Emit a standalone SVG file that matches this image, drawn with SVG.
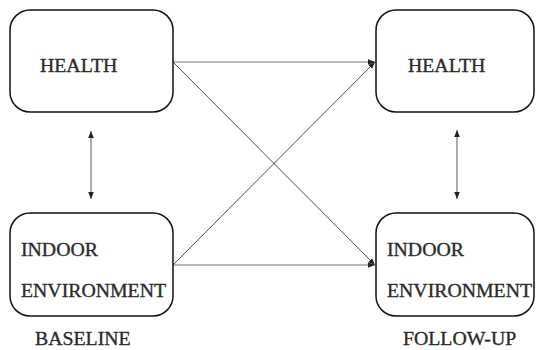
<svg xmlns="http://www.w3.org/2000/svg" width="536" height="350" viewBox="0 0 536 350">
<style>
.box{fill:#fff;stroke:#111;stroke-width:1.5}
.t{font-family:"Liberation Serif",serif;font-size:19.8px;fill:#2a2a2a;stroke:#2a2a2a;stroke-width:0.35}
.h{stroke:#777;stroke-width:1.2;fill:none}
.d{stroke:#222;stroke-width:0.8;fill:none}
</style>
<defs>
<marker id="ah" viewBox="0 0 10 10" refX="10" refY="5" markerWidth="7" markerHeight="7" markerUnits="userSpaceOnUse" orient="auto-start-reverse">
<path d="M0,1 L10,5 L0,9 Z" fill="#222"/>
</marker>
</defs>
<rect width="536" height="350" fill="#fff"/>
<g id="connectors">
<line class="h" x1="173" y1="62" x2="375" y2="62" marker-end="url(#ah)"/>
<line class="d" x1="173" y1="62" x2="375" y2="265" marker-end="url(#ah)"/>
<line class="h" x1="173" y1="265" x2="375" y2="265" marker-end="url(#ah)"/>
<line class="d" x1="173" y1="265" x2="375" y2="62" marker-end="url(#ah)"/>
<line class="h" x1="91" y1="131" x2="91" y2="199" marker-start="url(#ah)" marker-end="url(#ah)"/>
<line class="h" x1="457" y1="130" x2="457" y2="199" marker-start="url(#ah)" marker-end="url(#ah)"/>
</g>
<g id="health-baseline">
<rect class="box" x="10" y="10" width="163" height="102" rx="20"/>
<text class="t" x="40" y="72">HEALTH</text>
</g>
<g id="health-followup">
<rect class="box" x="376" y="10" width="158" height="102" rx="20"/>
<text class="t" x="408" y="72">HEALTH</text>
</g>
<g id="indoor-baseline">
<rect class="box" x="10" y="213" width="163" height="103" rx="20"/>
<text class="t" x="21" y="256">INDOOR</text>
<text class="t" x="21" y="297">ENVIRONMENT</text>
</g>
<g id="indoor-followup">
<rect class="box" x="376" y="213" width="158" height="103" rx="20"/>
<text class="t" x="387" y="256">INDOOR</text>
<text class="t" x="387" y="297">ENVIRONMENT</text>
</g>
<g id="labels">
<text class="t" x="35" y="345">BASELINE</text>
<text class="t" x="403" y="345">FOLLOW-UP</text>
</g>
</svg>
